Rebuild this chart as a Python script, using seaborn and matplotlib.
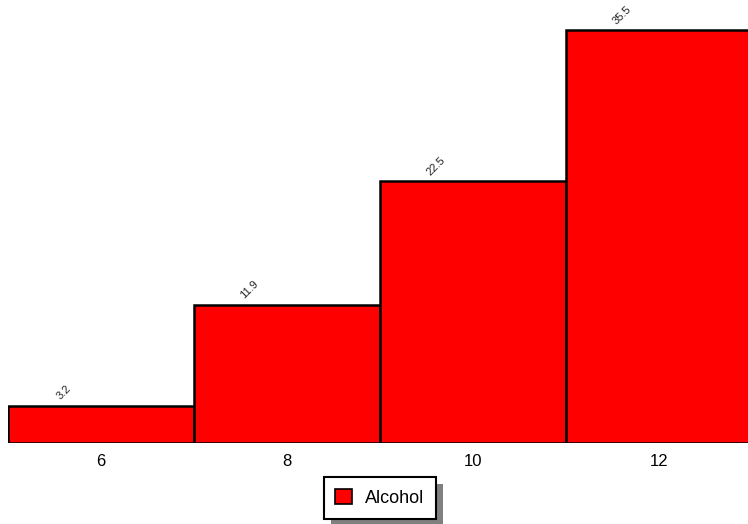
import matplotlib
matplotlib.use("Agg")
import matplotlib.pyplot as plt
import seaborn as sns
from matplotlib.patches import Patch, Rectangle

# data
centers = [6, 8, 10, 12]
values = [3.2, 11.9, 22.5, 35.5]
bin_edges = [5, 7, 9, 11, 13]
series_name = "Alcohol"

sns.set_style("white")
plt.rcParams['font.family'] = ['Liberation Sans', 'DejaVu Sans']
plt.rcParams['text.color'] = 'black'
plt.rcParams['xtick.color'] = 'black'

fig = plt.figure(figsize=(7.48, 5.24), dpi=100)
ax = fig.add_axes([8 / 748, 81 / 524, 740 / 748, 443 / 524])

sns.histplot(x=centers, weights=values, bins=bin_edges, ax=ax,
             color='#ff0000', edgecolor='black', linewidth=1.8, alpha=1)

# value labels, rotated
for c, v in zip(centers, values):
    ax.text(c - 0.4, v + 0.35, f"{v}", rotation=45, ha='center', va='bottom',
            fontsize=8, color='#222222')

ax.set_xlim(5, 12.96)
ax.set_ylim(0, 38.1)
ax.set_xticks(centers)
ax.set_xticklabels([str(c) for c in centers], fontsize=12)
ax.tick_params(axis='x', length=0, pad=8, labelcolor='black')
ax.set_yticks([])
ax.set_xlabel('')
ax.set_ylabel('')
for s in ax.spines.values():
    s.set_visible(False)

handle = Patch(facecolor='#ff0000', edgecolor='black', linewidth=1.2)
leg = fig.legend(handles=[handle], labels=[series_name], loc='center',
                 bbox_to_anchor=(380 / 748, 26 / 524), fontsize=13,
                 fancybox=False, framealpha=1,
                 edgecolor='black', handlelength=0.9, handleheight=0.9,
                 borderpad=0.65, handletextpad=0.75, borderaxespad=0,
                 labelcolor='black')
leg.get_frame().set_linewidth(1.5)
leg.set_zorder(5)

# drop shadow behind the legend box
fig.canvas.draw()
bb = leg.get_frame().get_window_extent()
shadow = Rectangle((bb.x0 + 7, bb.y0 - 7), bb.width, bb.height,
                   transform=None, facecolor='#808080', edgecolor='none',
                   zorder=4)
fig.add_artist(shadow)

fig.savefig("out.png", dpi=100)
